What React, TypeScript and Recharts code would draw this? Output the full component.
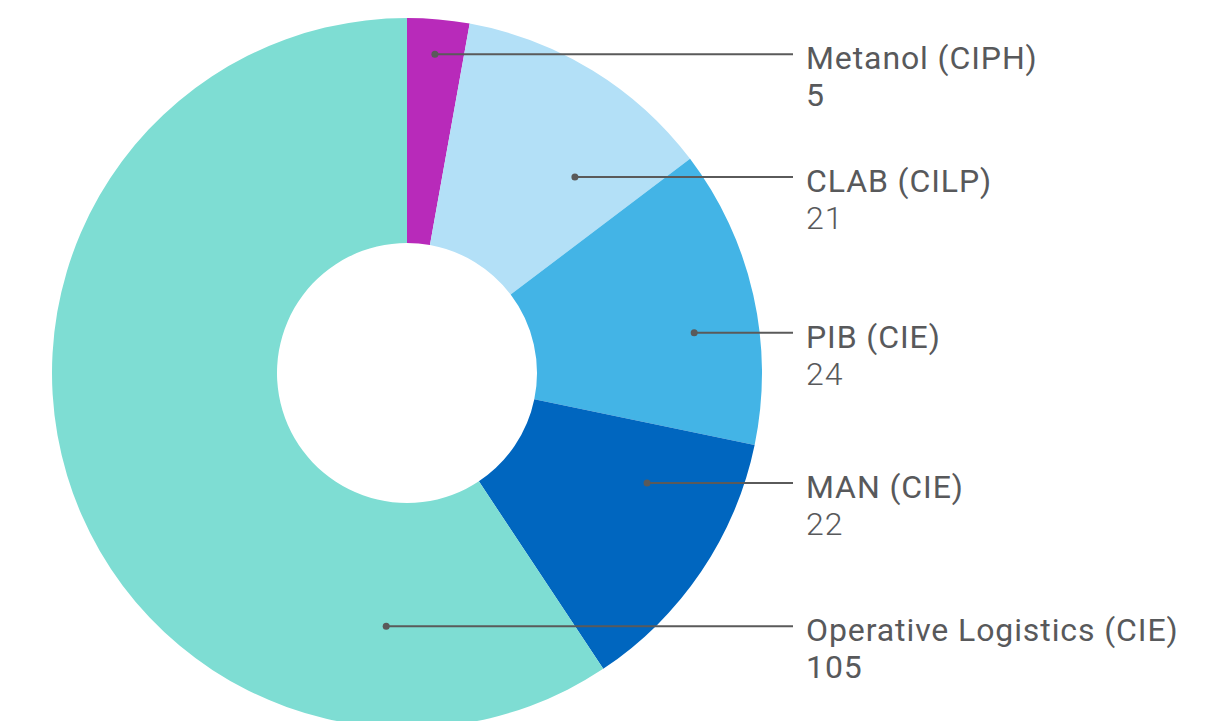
import React from "react";
import { PieChart, Pie, Cell } from "recharts";

const categories = ["Metanol (CIPH)", "CLAB (CILP)", "PIB (CIE)", "MAN (CIE)", "Operative Logistics (CIE)"];
const values = [5, 21, 24, 22, 105];
const colors = ["#B82ABA", "#B3E0F7", "#43B4E6", "#0066BF", "#7EDDD3"];

// label anchor layout (degrees clockwise from top, radius in px)
const anchorAngles = [5, 40.6, 82, 114.6, 184.7];
const anchorRadii = [320, 258, 290, 264, 254];
const valueWeights = [400, 300, 300, 300, 400];

const data = categories.map((name, i) => ({ name, value: values[i] }));

const TEXT_COLOR = "#58595B";
const FONT = "Roboto, 'Noto Sans', sans-serif";

const renderLabel = (props: any) => {
  const { cx, cy, index } = props;
  const a = (anchorAngles[index] * Math.PI) / 180;
  const r = anchorRadii[index];
  const x = cx + r * Math.sin(a);
  const y = cy - r * Math.cos(a);
  const lineEnd = cx + 386;
  const textX = cx + 399;
  return (
    <g key={`lbl-${index}`}>
      <line x1={x} y1={y} x2={lineEnd} y2={y} stroke="#5A5A5A" strokeWidth={2} />
      <circle cx={x} cy={y} r={3.5} fill="#5A5A5A" />
      <text x={textX} y={y + 15} fill={TEXT_COLOR} fontFamily={FONT} fontSize={32} fontWeight={400} letterSpacing={0.9}>
        {categories[index]}
      </text>
      <text x={textX} y={y + 52} fill={TEXT_COLOR} fontFamily={FONT} fontSize={32} fontWeight={valueWeights[index]} letterSpacing={0.9}>
        {values[index]}
      </text>
    </g>
  );
};

export default function App() {
  return (
    <div style={{ width: 1221, height: 713, overflow: "hidden" }}>
      <PieChart width={1221} height={713} margin={{ top: 0, right: 0, bottom: 0, left: 0 }}>
        <Pie
          data={data}
          dataKey="value"
          nameKey="name"
          cx={399}
          cy={365}
          innerRadius={130}
          outerRadius={355}
          startAngle={90}
          endAngle={-270}
          stroke="none"
          isAnimationActive={false}
          label={renderLabel}
          labelLine={false}
        >
          {data.map((d, i) => (
            <Cell key={d.name} fill={colors[i]} />
          ))}
        </Pie>
      </PieChart>
    </div>
  );
}
